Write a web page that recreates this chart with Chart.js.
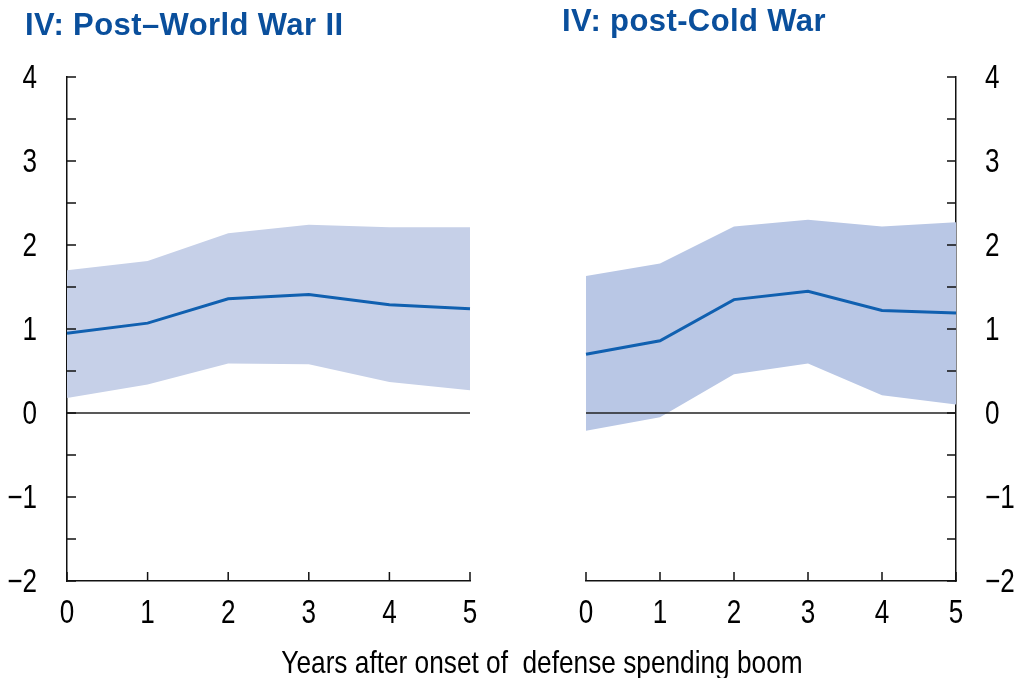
<!DOCTYPE html>
<html>
<head>
<meta charset="utf-8">
<script src="https://cdn.jsdelivr.net/npm/chart.js@4"></script>
<style>
  body { margin: 0; background: #fff; }
  #wrap { position: relative; width: 1016px; height: 678px; overflow: hidden; font-family: 'Liberation Sans', Arial, sans-serif; }
  canvas { position: absolute; left: 0; top: 0; }
  .title { position: absolute; font-weight: bold; font-size: 31px; letter-spacing: 0.4px; line-height: 1; color: #0a4f9c; white-space: nowrap; }
  #xTitle { position: absolute; left: 0; width: 1084px; text-align: center; top: 646px; font-size: 32px; line-height: 1; color: #000; white-space: nowrap; transform: scaleX(0.82); transform-origin: 542px 0; }
</style>
</head>
<body>
<div id="wrap">
  <canvas id="left" width="1016" height="678"></canvas>
  <canvas id="right" width="1016" height="678"></canvas>
  <div class="title" style="left:25px; top:9px;">IV: Post–World War II</div>
  <div class="title" style="left:562px; top:5px;">IV: post-Cold War</div>
  <div id="xTitle">Years after onset of&nbsp; defense spending boom</div>
</div>
<script>
// years after onset
const years = ['0', '1', '2', '3', '4', '5'];
const yTicks = [-2, -1, 0, 1, 2, 3, 4];

// Post-World War II
const wwLine = [0.95, 1.07, 1.36, 1.41, 1.29, 1.24];
const wwUpper = [1.70, 1.81, 2.14, 2.24, 2.21, 2.21];
const wwLower = [0.18, 0.34, 0.59, 0.58, 0.37, 0.27];

// post-Cold War
const cwLine = [0.70, 0.86, 1.35, 1.45, 1.22, 1.19];
const cwUpper = [1.63, 1.78, 2.22, 2.30, 2.22, 2.27];
const cwLower = [-0.21, -0.05, 0.46, 0.59, 0.21, 0.10];

Chart.defaults.font.family = `'Liberation Sans', Arial, sans-serif`;
Chart.defaults.color = '#000';

const fmt = v => (v < 0 ? '\u2212' + Math.abs(v) : String(v));

// condensed text, like the narrow font of the original
function narrowText(ctx, text, x, y, align) {
  ctx.save();
  ctx.translate(x, y);
  ctx.scale(0.79, 1);
  ctx.textAlign = align;
  ctx.fillText(text, 0, 0);
  ctx.restore();
}

// inward tick marks, tick labels and the zero line
const innerTicks = {
  id: 'innerTicks',
  afterDatasetsDraw(chart) {
    const { ctx, chartArea, scales } = chart;
    const x = scales.x, y = scales.y;
    const onRight = y.options.position === 'right';
    const axisX = onRight ? chartArea.right : chartArea.left;
    const len = 9;
    ctx.save();
    // zero line
    ctx.strokeStyle = '#222';
    ctx.lineWidth = 1.5;
    const y0 = y.getPixelForValue(0);
    ctx.beginPath();
    ctx.moveTo(chartArea.left, y0);
    ctx.lineTo(chartArea.right, y0);
    ctx.stroke();

    ctx.strokeStyle = '#111';
    ctx.lineWidth = 1.5;
    ctx.beginPath();
    for (let v = y.min; v <= y.max; v += 0.5) {
      const py = y.getPixelForValue(v);
      ctx.moveTo(axisX, py);
      ctx.lineTo(onRight ? axisX - len : axisX + len, py);
    }
    x.ticks.forEach((t, i) => {
      const px = x.getPixelForTick(i);
      ctx.moveTo(px, chartArea.bottom);
      ctx.lineTo(px, chartArea.bottom - len);
    });
    ctx.stroke();

    // labels
    ctx.fillStyle = '#000';
    ctx.font = `33px 'Liberation Sans', Arial, sans-serif`;
    ctx.textBaseline = 'alphabetic';
    y.ticks.forEach(t => {
      const py = y.getPixelForValue(t.value);
      if (onRight) narrowText(ctx, fmt(t.value), axisX + 29, py + 10.5, 'left');
      else narrowText(ctx, fmt(t.value), axisX - 30, py + 10.5, 'right');
    });
    x.ticks.forEach((t, i) => {
      narrowText(ctx, x.getLabelForValue(t.value), x.getPixelForTick(i), chartArea.bottom + 42, 'center');
    });
    ctx.restore();
  }
};

function makeChart(id, line, upper, lower, side, band) {
  const onRight = side === 'right';
  return new Chart(document.getElementById(id), {
    type: 'line',
    data: {
      labels: years,
      datasets: [
        { data: line, borderColor: '#1060b0', borderWidth: 3, pointRadius: 0, fill: false, order: 0 },
        { data: upper, borderWidth: 0, pointRadius: 0, backgroundColor: band, fill: '+1', order: 1 },
        { data: lower, borderWidth: 0, pointRadius: 0, fill: false, order: 1 }
      ]
    },
    plugins: [innerTicks],
    options: {
      responsive: false,
      animation: false,
      devicePixelRatio: 1,
      layout: { padding: onRight ? { left: 586, top: 77, right: 0, bottom: 0 } : { left: 0, top: 77, right: 546, bottom: 0 } },
      plugins: { legend: { display: false }, tooltip: { enabled: false } },
      scales: {
        x: {
          offset: false,
          grid: { display: false, drawTicks: false },
          border: { display: true, color: '#111', width: 1.5 },
          ticks: { display: false },
          afterFit(s) { s.height = 97; }
        },
        y: {
          position: side,
          min: -2,
          max: 4,
          afterBuildTicks(s) { s.ticks = yTicks.map(v => ({ value: v })); },
          grid: { display: false, drawTicks: false },
          border: { display: true, color: '#111', width: 1.5 },
          ticks: { display: false },
          afterFit(s) { s.width = onRight ? 60 : 67; }
        }
      }
    }
  });
}

makeChart('left', wwLine, wwUpper, wwLower, 'left', '#c6d0e8');
makeChart('right', cwLine, cwUpper, cwLower, 'right', '#b9c7e5');
</script>
</body>
</html>
